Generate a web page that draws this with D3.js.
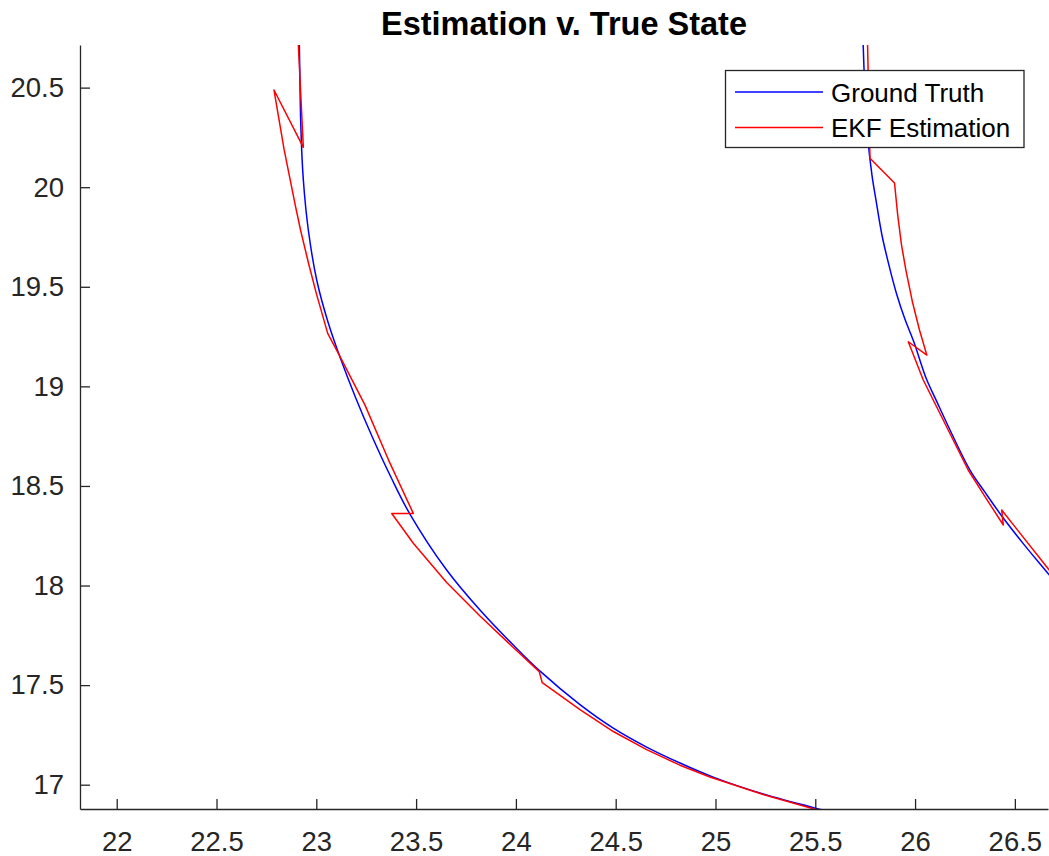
<!DOCTYPE html>
<html>
<head>
<meta charset="utf-8">
<script src="https://cdn.jsdelivr.net/npm/d3@7"></script>
<style>
  html, body { margin: 0; padding: 0; background: #ffffff; }
  svg { display: block; }
</style>
</head>
<body>
<svg id="chart" width="1049" height="856"></svg>
<script>
// ---------------- data ----------------
const titleText = "Estimation v. True State";
const seriesNames = ["Ground Truth", "EKF Estimation"];

const xTicks = [22, 22.5, 23, 23.5, 24, 24.5, 25, 25.5, 26, 26.5];
const yTicks = [17, 17.5, 18, 18.5, 19, 19.5, 20, 20.5];
const xTickLabels = ["22", "22.5", "23", "23.5", "24", "24.5", "25", "25.5", "26", "26.5"];
const yTickLabels = ["17", "17.5", "18", "18.5", "19", "19.5", "20", "20.5"];
const xLimits = [21.816, 26.666];
const yLimits = [16.878, 20.714];

// Ground truth, first arc (left)
const truthArc1X = [22.910, 22.915, 22.923, 22.935, 22.960, 23.002, 23.060, 23.124, 23.195, 23.280, 23.373, 23.469, 23.653, 23.820, 23.987, 24.121, 24.321, 24.488, 24.655, 24.822, 24.989, 25.239, 25.507, 25.774];
const truthArc1Y = [20.940, 20.714, 20.287, 20.036, 19.785, 19.534, 19.318, 19.132, 18.948, 18.747, 18.546, 18.359, 18.078, 17.877, 17.701, 17.570, 17.402, 17.284, 17.189, 17.109, 17.038, 16.953, 16.881, 16.817];

// Ground truth, second arc (right)
const truthArc2X = [25.736, 25.740, 25.749, 25.764, 25.784, 25.804, 25.834, 25.869, 25.909, 25.949, 25.994, 26.055, 26.110, 26.175, 26.275, 26.350, 26.425, 26.540, 26.659, 26.801];
const truthArc2Y = [20.940, 20.714, 20.488, 20.237, 20.061, 19.936, 19.760, 19.609, 19.459, 19.338, 19.223, 19.042, 18.921, 18.781, 18.580, 18.469, 18.362, 18.213, 18.069, 17.897];

// EKF estimation, first arc
const ekfArc1X = [22.899, 22.910, 22.935, 22.788, 22.839, 22.896, 22.921, 22.961, 23.000, 23.057, 23.119, 23.244, 23.362, 23.486, 23.378, 23.486, 23.653, 23.820, 23.987, 24.117, 24.132, 24.321, 24.488, 24.655, 24.822, 24.972, 25.239, 25.490, 25.754];
const ekfArc1Y = [20.940, 20.714, 20.200, 20.488, 20.187, 19.902, 19.785, 19.618, 19.467, 19.266, 19.149, 18.906, 18.630, 18.362, 18.362, 18.212, 18.015, 17.847, 17.689, 17.568, 17.512, 17.377, 17.267, 17.176, 17.098, 17.039, 16.951, 16.879, 16.812];

// EKF estimation, second arc
const ekfArc2X = [25.759, 25.762, 25.769, 25.774, 25.897, 25.913, 25.932, 25.954, 25.987, 26.022, 26.059, 25.966, 26.041, 26.166, 26.266, 26.355, 26.442, 26.434, 26.659, 26.801];
const ekfArc2Y = [20.940, 20.714, 20.388, 20.145, 20.021, 19.860, 19.710, 19.584, 19.423, 19.283, 19.157, 19.224, 19.032, 18.781, 18.580, 18.439, 18.304, 18.379, 18.094, 17.920];

// ---------------- layout ----------------
const plot = { left: 80, right: 1048, top: 45, bottom: 809 };
const axisColor = "#262626";
const truthColor = "#0000ff";
const ekfColor = "#ff0000";
const fontFamily = "'Liberation Sans', Arial, Helvetica, sans-serif";

const svg = d3.select("#chart");

const x = d3.scaleLinear().domain(xLimits).range([plot.left, plot.right]);
const y = d3.scaleLinear().domain(yLimits).range([plot.bottom, plot.top]);

svg.append("defs").append("clipPath").attr("id", "plotClip")
  .append("rect")
  .attr("x", plot.left).attr("y", plot.top)
  .attr("width", plot.right - plot.left + 2)
  .attr("height", plot.bottom - plot.top);

const zip = (xs, ys) => xs.map((v, i) => [v, ys[i]]);

const smoothLine = d3.line().x(d => x(d[0])).y(d => y(d[1])).curve(d3.curveCatmullRom.alpha(0.5));
const straightLine = d3.line().x(d => x(d[0])).y(d => y(d[1]));

const g = svg.append("g").attr("clip-path", "url(#plotClip)");

[zip(truthArc1X, truthArc1Y), zip(truthArc2X, truthArc2Y)].forEach(pts => {
  g.append("path").attr("d", smoothLine(pts))
    .attr("fill", "none").attr("stroke", truthColor).attr("stroke-width", 1.5)
    .attr("stroke-linejoin", "round");
});
[zip(ekfArc1X, ekfArc1Y), zip(ekfArc2X, ekfArc2Y)].forEach(pts => {
  g.append("path").attr("d", straightLine(pts))
    .attr("fill", "none").attr("stroke", ekfColor).attr("stroke-width", 1.5)
    .attr("stroke-linejoin", "round");
});

// ---------------- axes ----------------
const xAxis = d3.axisBottom(x).tickValues(xTicks)
  .tickFormat((d, i) => xTickLabels[i])
  .tickSizeInner(-10).tickSizeOuter(0).tickPadding(22);
const yAxis = d3.axisLeft(y).tickValues(yTicks)
  .tickFormat((d, i) => yTickLabels[i])
  .tickSizeInner(-10).tickSizeOuter(0).tickPadding(16);

const gx = svg.append("g").attr("transform", `translate(0,${plot.bottom})`).call(xAxis);
const gy = svg.append("g").attr("transform", `translate(${plot.left},0)`).call(yAxis);

[gx, gy].forEach(ax => {
  ax.select(".domain").attr("stroke", axisColor).attr("stroke-width", 1.3);
  ax.selectAll(".tick line").attr("stroke", axisColor).attr("stroke-width", 1.3);
  ax.selectAll(".tick text").attr("fill", axisColor)
    .style("font-family", fontFamily).style("font-size", "27.5px");
});

// ---------------- title ----------------
svg.append("text")
  .attr("x", (plot.left + plot.right) / 2).attr("y", 35)
  .attr("text-anchor", "middle")
  .style("font-family", fontFamily).style("font-size", "32.5px").style("font-weight", "bold")
  .attr("fill", "#000")
  .text(titleText);

// ---------------- legend ----------------
const legend = svg.append("g");
legend.append("rect")
  .attr("x", 725.5).attr("y", 70.5).attr("width", 298.5).attr("height", 77)
  .attr("fill", "#fff").attr("stroke", axisColor).attr("stroke-width", 1.3);
const legendRows = [
  { name: seriesNames[0], color: truthColor, yy: 92 },
  { name: seriesNames[1], color: ekfColor, yy: 127.5 }
];
legendRows.forEach(r => {
  legend.append("line")
    .attr("x1", 735).attr("x2", 823).attr("y1", r.yy).attr("y2", r.yy)
    .attr("stroke", r.color).attr("stroke-width", 1.5);
  legend.append("text")
    .attr("x", 831).attr("y", r.yy + 9.5)
    .style("font-family", fontFamily).style("font-size", "26px")
    .attr("fill", "#000")
    .text(r.name);
});
</script>
</body>
</html>
